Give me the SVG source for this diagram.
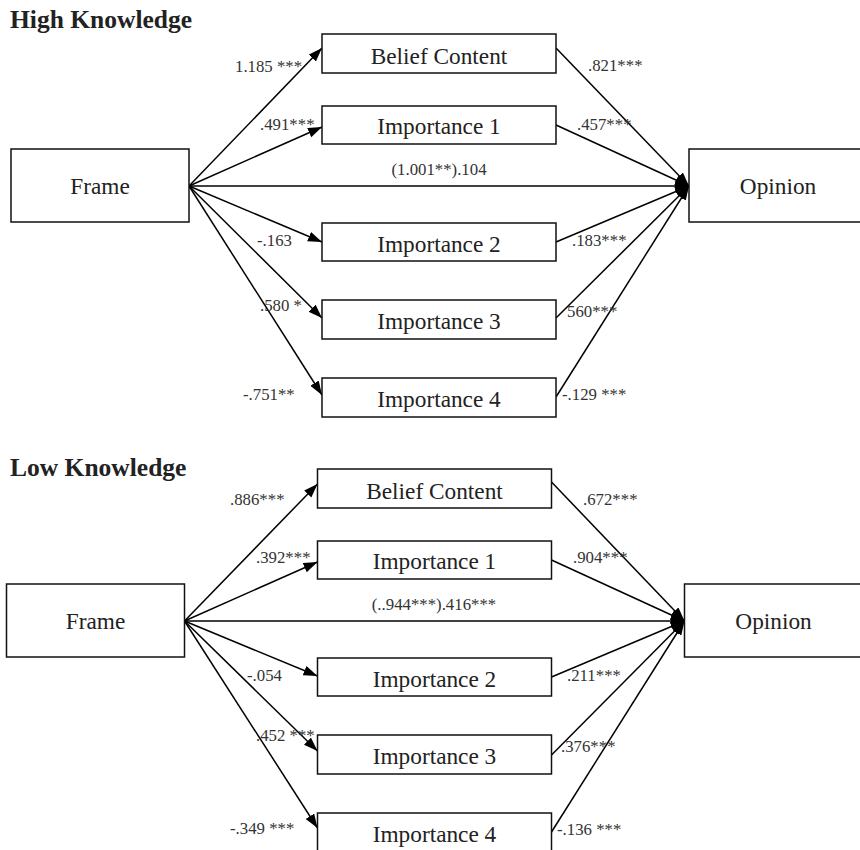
<svg xmlns="http://www.w3.org/2000/svg" width="860" height="850" viewBox="0 0 860 850">
<style>
.box{fill:#fff;stroke:#111;stroke-width:1.5}
.nt{font-family:"Liberation Serif","Times New Roman",serif;font-size:23.3px;fill:#222;text-anchor:middle}
.lb{font-family:"Liberation Serif","Times New Roman",serif;font-size:16.8px;fill:#333}
.hd{font-family:"Liberation Serif","Times New Roman",serif;font-size:25.5px;font-weight:bold;fill:#222}
.ln{stroke:#000;stroke-width:1.5;fill:none;marker-end:url(#ah)}
.mid{text-anchor:middle}
</style>
<defs>
<marker id="ah" markerUnits="userSpaceOnUse" markerWidth="15" markerHeight="11" refX="14" refY="5" orient="auto">
<path d="M0,0 L14,5 L0,10 Z" fill="#000"/>
</marker>
</defs>
<rect width="860" height="850" fill="#fff"/>

<text class="hd" x="10" y="28">High Knowledge</text>
<text class="hd" x="10" y="476">Low Knowledge</text>

<g id="connectors-high">
<line class="ln" x1="189" y1="186" x2="322" y2="48"/>
<line class="ln" x1="189" y1="186" x2="322" y2="127"/>
<line class="ln" x1="189" y1="186" x2="689" y2="186"/>
<line class="ln" x1="189" y1="186" x2="322" y2="242"/>
<line class="ln" x1="189" y1="186" x2="322" y2="318"/>
<line class="ln" x1="189" y1="186" x2="322" y2="395"/>
<line class="ln" x1="556" y1="48" x2="689" y2="186"/>
<line class="ln" x1="556" y1="125" x2="689" y2="186"/>
<line class="ln" x1="556" y1="242" x2="689" y2="186"/>
<line class="ln" x1="556" y1="318" x2="689" y2="186"/>
<line class="ln" x1="556" y1="397" x2="689" y2="186"/>
</g>

<g id="connectors-low">
<line class="ln" x1="184.5" y1="621" x2="317.5" y2="484"/>
<line class="ln" x1="184.5" y1="621" x2="317.5" y2="562"/>
<line class="ln" x1="184.5" y1="621" x2="684.5" y2="621"/>
<line class="ln" x1="184.5" y1="621" x2="317.5" y2="676"/>
<line class="ln" x1="184.5" y1="621" x2="317.5" y2="751"/>
<line class="ln" x1="184.5" y1="621" x2="317.5" y2="828"/>
<line class="ln" x1="551.5" y1="482" x2="684.5" y2="621"/>
<line class="ln" x1="551.5" y1="560" x2="684.5" y2="621"/>
<line class="ln" x1="551.5" y1="677" x2="684.5" y2="621"/>
<line class="ln" x1="551.5" y1="755" x2="684.5" y2="621"/>
<line class="ln" x1="551.5" y1="832" x2="684.5" y2="621"/>
</g>

<g id="high-frame"><rect class="box" x="11" y="149" width="178" height="73"/><text class="nt" x="100" y="194">Frame</text></g>
<g id="high-belief"><rect class="box" x="322" y="34" width="234" height="39"/><text class="nt" x="439" y="64">Belief Content</text></g>
<g id="high-imp1"><rect class="box" x="322" y="106" width="234" height="38"/><text class="nt" x="439" y="134">Importance 1</text></g>
<g id="high-imp2"><rect class="box" x="322" y="223" width="234" height="38"/><text class="nt" x="439" y="252">Importance 2</text></g>
<g id="high-imp3"><rect class="box" x="322" y="300" width="234" height="39"/><text class="nt" x="439" y="329">Importance 3</text></g>
<g id="high-imp4"><rect class="box" x="322" y="378" width="234" height="39"/><text class="nt" x="439" y="407">Importance 4</text></g>
<g id="high-opinion"><rect class="box" x="689" y="149" width="180" height="73"/><text class="nt" x="778" y="194">Opinion</text></g>

<g id="high-labels">
<text class="lb" x="235" y="72">1.185 ***</text>
<text class="lb" x="260" y="130">.491***</text>
<text class="lb mid" x="439" y="175">(1.001**).104</text>
<text class="lb" x="588" y="71">.821***</text>
<text class="lb" x="577" y="130">.457***</text>
<text class="lb" x="257" y="246">-.163</text>
<text class="lb" x="260" y="311">.580 *</text>
<text class="lb" x="243" y="400">-.751**</text>
<text class="lb" x="572" y="246">.183***</text>
<text class="lb" x="567" y="317">560***</text>
<text class="lb" x="562" y="400">-.129 ***</text>
</g>

<g id="low-frame"><rect class="box" x="6.5" y="584" width="178" height="73"/><text class="nt" x="95.5" y="629">Frame</text></g>
<g id="low-belief"><rect class="box" x="317.5" y="469" width="234" height="39"/><text class="nt" x="434.5" y="499">Belief Content</text></g>
<g id="low-imp1"><rect class="box" x="317.5" y="541" width="234" height="38"/><text class="nt" x="434.5" y="569">Importance 1</text></g>
<g id="low-imp2"><rect class="box" x="317.5" y="658" width="234" height="38"/><text class="nt" x="434.5" y="687">Importance 2</text></g>
<g id="low-imp3"><rect class="box" x="317.5" y="735" width="234" height="39"/><text class="nt" x="434.5" y="764">Importance 3</text></g>
<g id="low-imp4"><rect class="box" x="317.5" y="813" width="234" height="39"/><text class="nt" x="434.5" y="842">Importance 4</text></g>
<g id="low-opinion"><rect class="box" x="684.5" y="584" width="180" height="73"/><text class="nt" x="773.5" y="629">Opinion</text></g>

<g id="low-labels">
<text class="lb" x="230" y="505">.886***</text>
<text class="lb" x="256" y="563">.392***</text>
<text class="lb mid" x="434" y="610">(..944***).416***</text>
<text class="lb" x="583" y="505">.672***</text>
<text class="lb" x="573" y="563">.904***</text>
<text class="lb" x="247" y="681">-.054</text>
<text class="lb" x="256" y="741">.452 ***</text>
<text class="lb" x="230" y="834">-.349 ***</text>
<text class="lb" x="567" y="681">.211***</text>
<text class="lb" x="561" y="752">.376***</text>
<text class="lb" x="557" y="835">-.136 ***</text>
</g>
</svg>
